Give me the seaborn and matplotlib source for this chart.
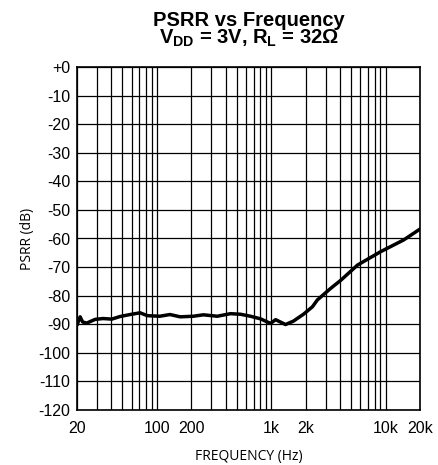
import numpy as np
import pandas as pd
import matplotlib
matplotlib.use("Agg")
import matplotlib.pyplot as plt
import seaborn as sns

# PSRR curve
freq_hz = [20, 21.3, 22.4, 24.3, 28.8, 33.8, 40.3, 47.5, 58.3, 71.3, 82.5,
           106, 130, 160, 208, 255, 337, 440, 538, 658, 805, 985, 1092,
           1333, 1563, 1913, 2290, 2530, 3320, 4060, 5680, 9060, 14400, 20000]
psrr_db = [-90.3, -87.4, -89.2, -89.6, -88.3, -88.0, -88.2, -87.3, -86.6, -86.0, -87.0,
           -87.2, -86.6, -87.4, -87.2, -86.7, -87.2, -86.3, -86.5, -87.2, -88.1, -89.7, -88.4,
           -90.1, -88.9, -86.5, -83.9, -81.5, -77.4, -74.6, -69.3, -64.6, -60.5, -56.7]

x_ticks = [20, 100, 200, 1000, 2000, 10000, 20000]
x_tick_labels = ["20", "100", "200", "1k", "2k", "10k", "20k"]
y_ticks = list(range(-120, 1, 10))
y_tick_labels = ["+0" if v == 0 else str(v) for v in y_ticks]

df = pd.DataFrame({"freq": freq_hz, "psrr": psrr_db})

sns.set_style("white")
plt.rcParams["font.family"] = ["Liberation Sans", "DejaVu Sans"]
plt.rcParams["text.color"] = "black"
plt.rcParams["axes.labelcolor"] = "black"
plt.rcParams["mathtext.fontset"] = "custom"
plt.rcParams["mathtext.bf"] = "Liberation Sans:bold"
plt.rcParams["mathtext.rm"] = "Liberation Sans:bold"

fig = plt.figure(figsize=(4.38, 4.65), dpi=100)
ax = fig.add_axes([77 / 438, 1 - 410 / 465, 343 / 438, 343 / 465])

sns.lineplot(data=df, x="freq", y="psrr", color="black", linewidth=2.5, ax=ax)

ax.set_xscale("log")
ax.set_xlim(20, 20000)
ax.set_ylim(-120, 0)

# minor grid at every 1-2-...-9 decade step
minor = [m * 10 ** e for e in range(1, 5) for m in range(2, 10)]
minor = [v for v in minor if 20 <= v <= 20000]
ax.set_xticks(minor, minor=True)
ax.set_xticks(x_ticks)
ax.set_xticklabels(x_tick_labels)
ax.set_yticks(y_ticks)
ax.set_yticklabels(y_tick_labels)
ax.xaxis.set_minor_formatter(matplotlib.ticker.NullFormatter())

ax.grid(True, which="both", color="black", linewidth=0.9)
ax.tick_params(which="both", length=0, labelsize=11.5, colors="black")
ax.tick_params(axis="x", pad=8)
ax.tick_params(axis="y", pad=5)
for s in ax.spines.values():
    s.set_color("black")
    s.set_linewidth(1.2)

ax.set_xlabel("FREQUENCY (Hz)", fontsize=10, family=["Open Sans", "DejaVu Sans"], labelpad=9)
ax.set_ylabel("PSRR (dB)", fontsize=10, family=["Open Sans", "DejaVu Sans"], labelpad=2)
ax.set_title("PSRR vs Frequency\n" + r"V$_{\mathbf{DD}}$ = 3V, R$_{\mathbf{L}}$ = 32Ω",
             fontsize=14.5, fontweight="bold", linespacing=0.85, pad=17)

fig.savefig("out.png", dpi=100)
